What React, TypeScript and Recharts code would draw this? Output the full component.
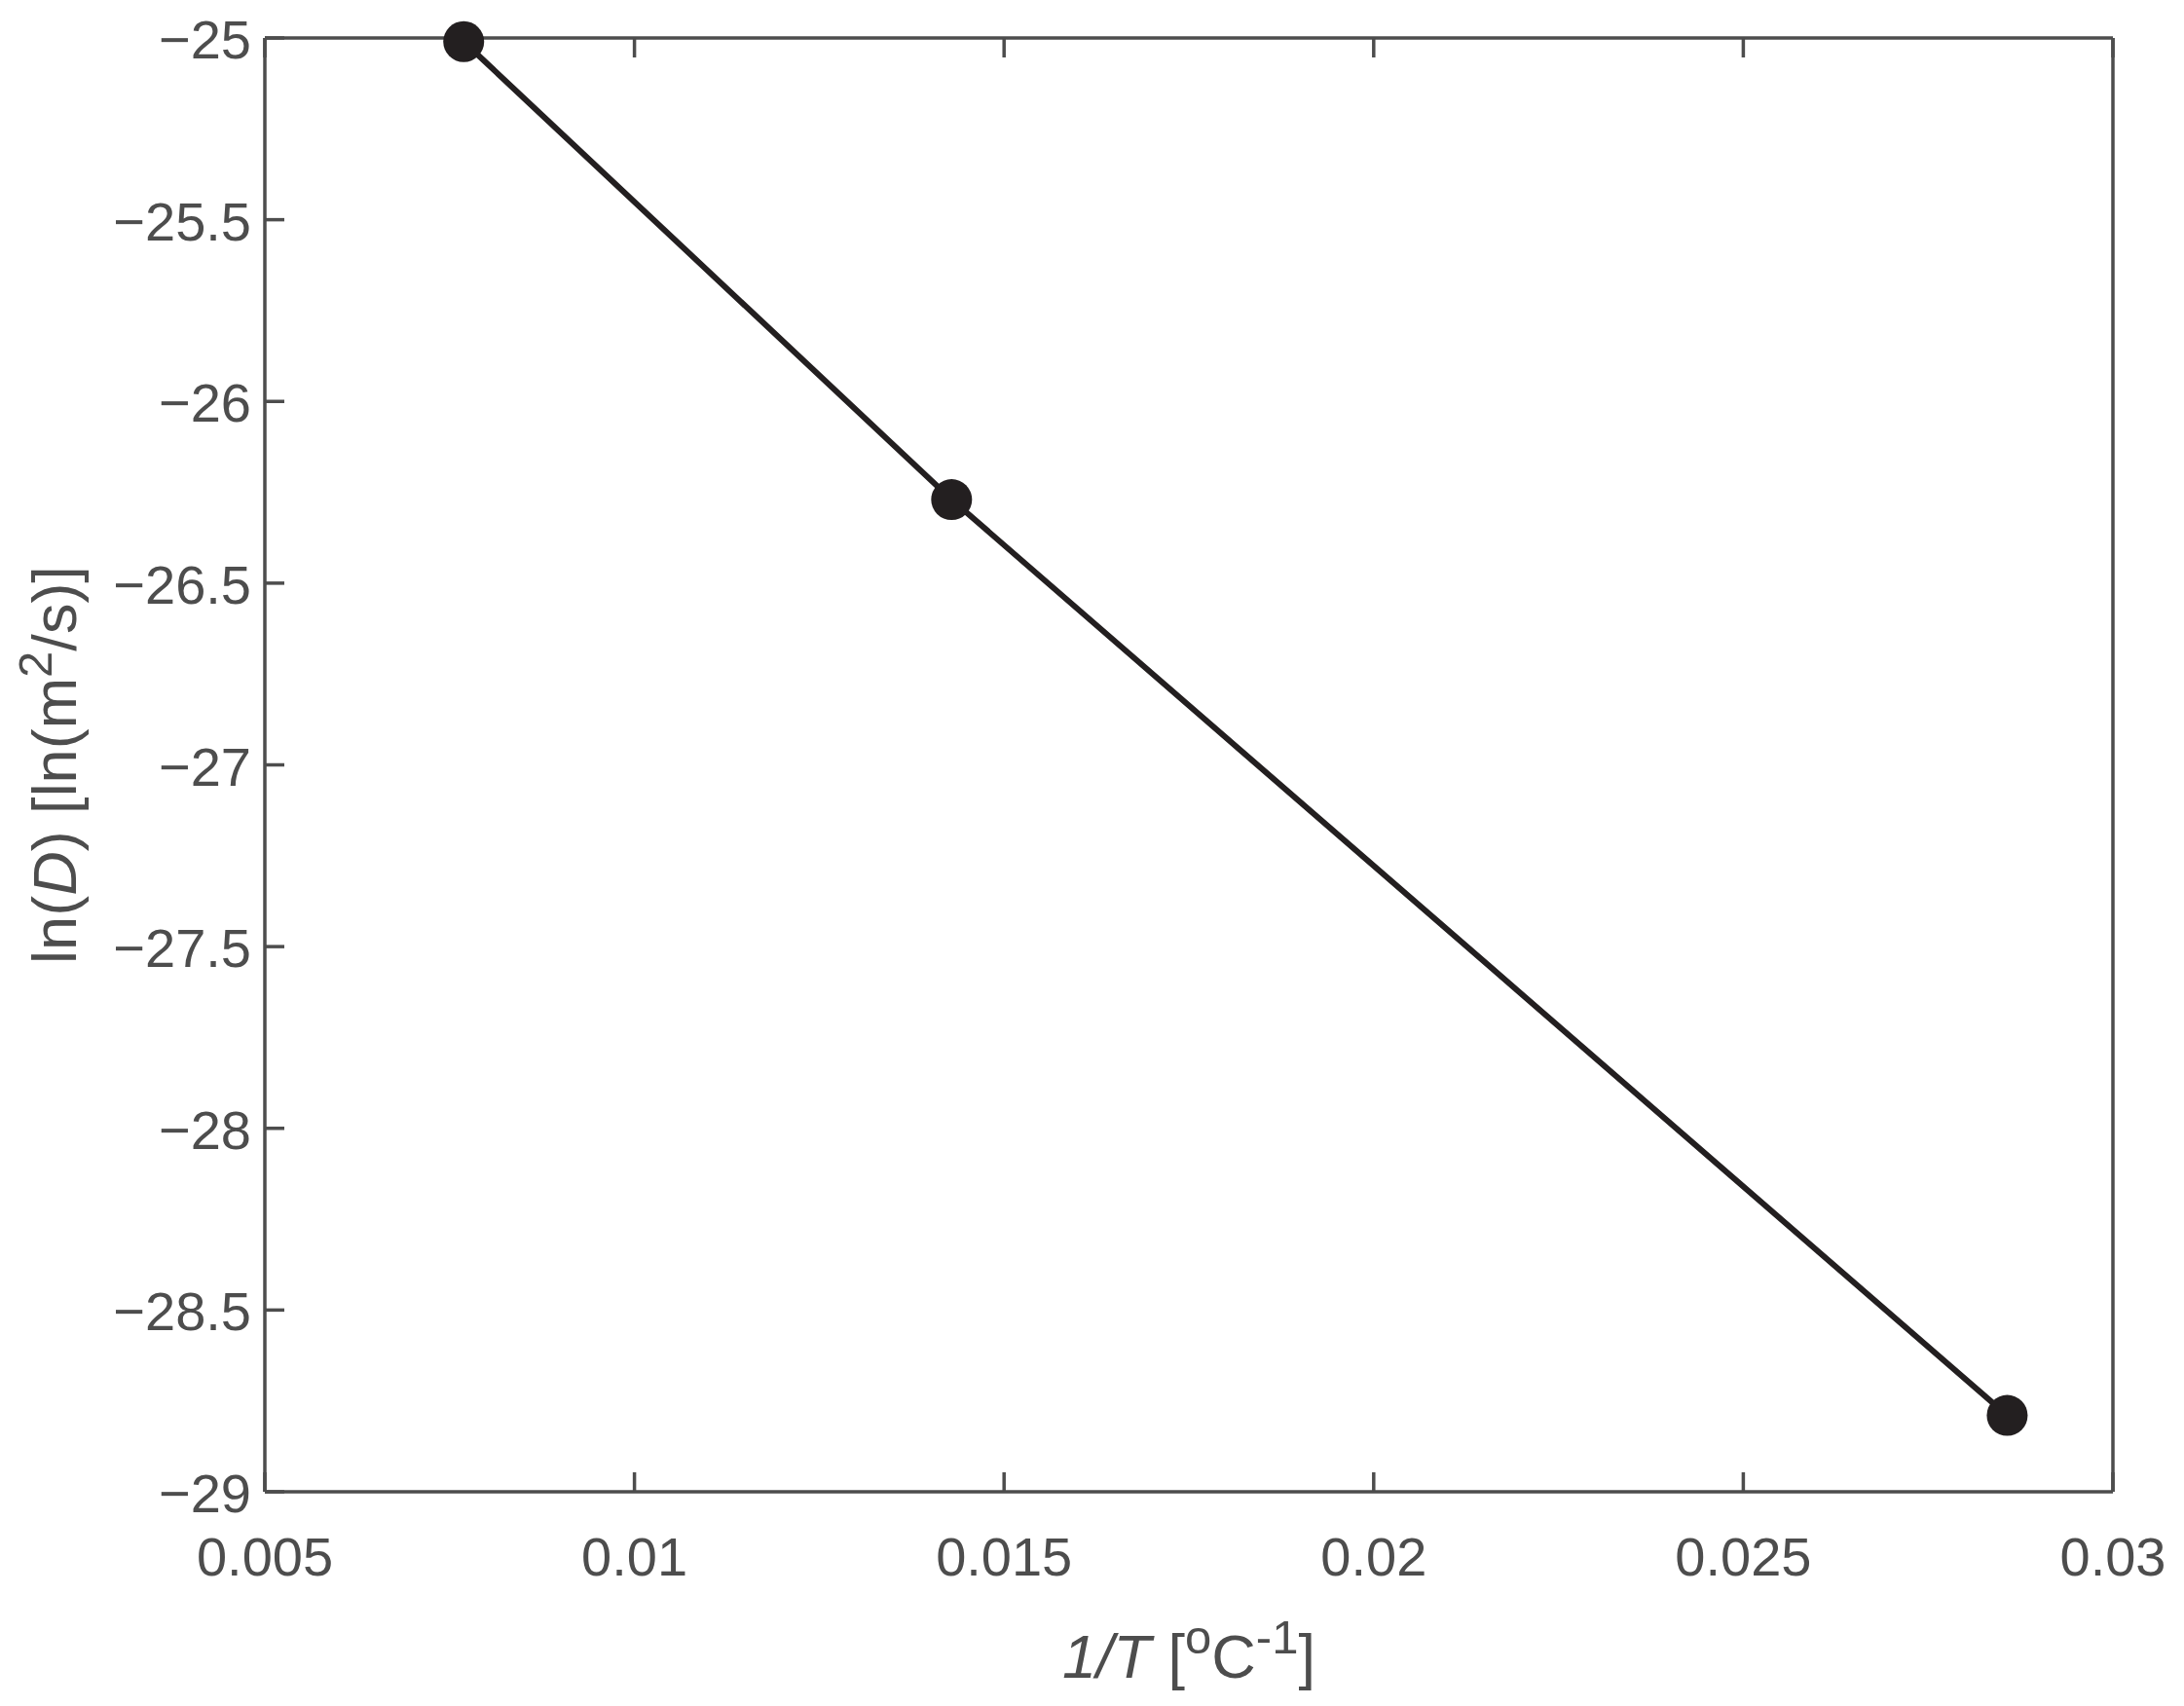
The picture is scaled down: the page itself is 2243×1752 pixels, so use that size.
import React from 'react';
import { LineChart, Line, XAxis, YAxis } from 'recharts';

const invT = [0.00769, 0.01429, 0.02857];
const lnD = [-25.01, -26.27, -28.79];
const xTicks = [0.005, 0.01, 0.015, 0.02, 0.025, 0.03];
const yTicks = [-29, -28.5, -28, -27.5, -27, -26.5, -26, -25.5, -25];

const data = invT.map((x, i) => ({ x, y: lnD[i] }));

const AXIS = '#4d4d4d';
const INK = '#231f20';
const FONT = '"Liberation Sans", Arial, Helvetica, sans-serif';
const FS = 56;
const LFS = 63;
const SFS = 49;
const TICK = 20;
const AW = 3.5;

const fmt = (v: number) => (v < 0 ? '\u2212' + String(Math.abs(v)) : String(v));

const BottomTick = (p: any) => (
  <g>
    <line x1={p.x} y1={p.y} x2={p.x} y2={p.y - TICK} stroke={AXIS} strokeWidth={AW} />
    <text x={p.x} y={p.y + 86} textAnchor="middle" fill={AXIS} fontSize={FS} fontFamily={FONT}>
      {fmt(p.payload.value)}
    </text>
  </g>
);
const TopTick = (p: any) => (
  <line x1={p.x} y1={p.y} x2={p.x} y2={p.y + TICK} stroke={AXIS} strokeWidth={AW} />
);
const LeftTick = (p: any) => (
  <g>
    <line x1={p.x} y1={p.y} x2={p.x + TICK} y2={p.y} stroke={AXIS} strokeWidth={AW} />
    <text x={p.x - 14} y={p.y + 21} textAnchor="end" fill={AXIS} fontSize={FS} fontFamily={FONT}>
      {fmt(p.payload.value)}
    </text>
  </g>
);
const RightTick = (p: any) => (
  <line x1={p.x} y1={p.y} x2={p.x - TICK} y2={p.y} stroke={AXIS} strokeWidth={AW} />
);

const XLabel = (p: any) => {
  const vb = p.viewBox || { x: 272, y: 1532, width: 1898, height: 1 };
  return (
    <text x={vb.x + vb.width / 2} y={vb.y + 191} textAnchor="middle" fill={AXIS} fontSize={LFS} fontFamily={FONT}>
      <tspan fontStyle="italic">1/T</tspan>
      <tspan> [</tspan>
      <tspan fontSize={SFS} dy={-25}>o</tspan>
      <tspan dy={25}>C</tspan>
      <tspan fontSize={SFS} dy={-25}>-1</tspan>
      <tspan dy={25}>]</tspan>
    </text>
  );
};

const YLabel = (p: any) => {
  const vb = p.viewBox || { x: 271, y: 39, width: 1, height: 1493 };
  const cx = vb.x + vb.width - 194;
  const cy = vb.y + vb.height / 2;
  return (
    <text x={cx} y={cy} transform={`rotate(-90 ${cx} ${cy})`} textAnchor="middle" fill={AXIS} fontSize={LFS} fontFamily={FONT}>
      <tspan>ln(</tspan>
      <tspan fontStyle="italic">D</tspan>
      <tspan>) [ln(m</tspan>
      <tspan fontSize={SFS} dy={-25}>2</tspan>
      <tspan dy={25}>/s)]</tspan>
    </text>
  );
};

export default function App() {
  return (
    <div style={{ position: 'absolute', left: 0, top: 0, background: '#fff' }}>
      <LineChart width={2243} height={1752} data={data} margin={{ top: 38, right: 72, bottom: 219, left: 271 }}>
        <XAxis
          xAxisId="b"
          type="number"
          dataKey="x"
          domain={[0.005, 0.03]}
          ticks={xTicks}
          orientation="bottom"
          height={1}
          tickSize={0}
          tickMargin={0}
          tickLine={false}
          axisLine={{ stroke: AXIS, strokeWidth: AW }}
          tick={<BottomTick />}
          interval={0}
          label={<XLabel />}
        />
        <XAxis
          xAxisId="t"
          type="number"
          dataKey="x"
          domain={[0.005, 0.03]}
          ticks={xTicks}
          orientation="top"
          height={1}
          tickSize={0}
          tickMargin={0}
          tickLine={false}
          axisLine={{ stroke: AXIS, strokeWidth: AW }}
          tick={<TopTick />}
          interval={0}
        />
        <YAxis
          yAxisId="l"
          type="number"
          domain={[-29, -25]}
          ticks={yTicks}
          orientation="left"
          width={1}
          tickSize={0}
          tickMargin={0}
          tickLine={false}
          axisLine={{ stroke: AXIS, strokeWidth: AW }}
          tick={<LeftTick />}
          interval={0}
          label={<YLabel />}
        />
        <YAxis
          yAxisId="r"
          type="number"
          domain={[-29, -25]}
          ticks={yTicks}
          orientation="right"
          width={1}
          tickSize={0}
          tickMargin={0}
          tickLine={false}
          axisLine={{ stroke: AXIS, strokeWidth: AW }}
          tick={<RightTick />}
          interval={0}
        />
        <Line
          xAxisId="b"
          yAxisId="l"
          dataKey="y"
          stroke={INK}
          strokeWidth={6}
          dot={{ r: 21, fill: INK, stroke: INK, strokeWidth: 0 }}
          isAnimationActive={false}
        />
      </LineChart>
    </div>
  );
}
